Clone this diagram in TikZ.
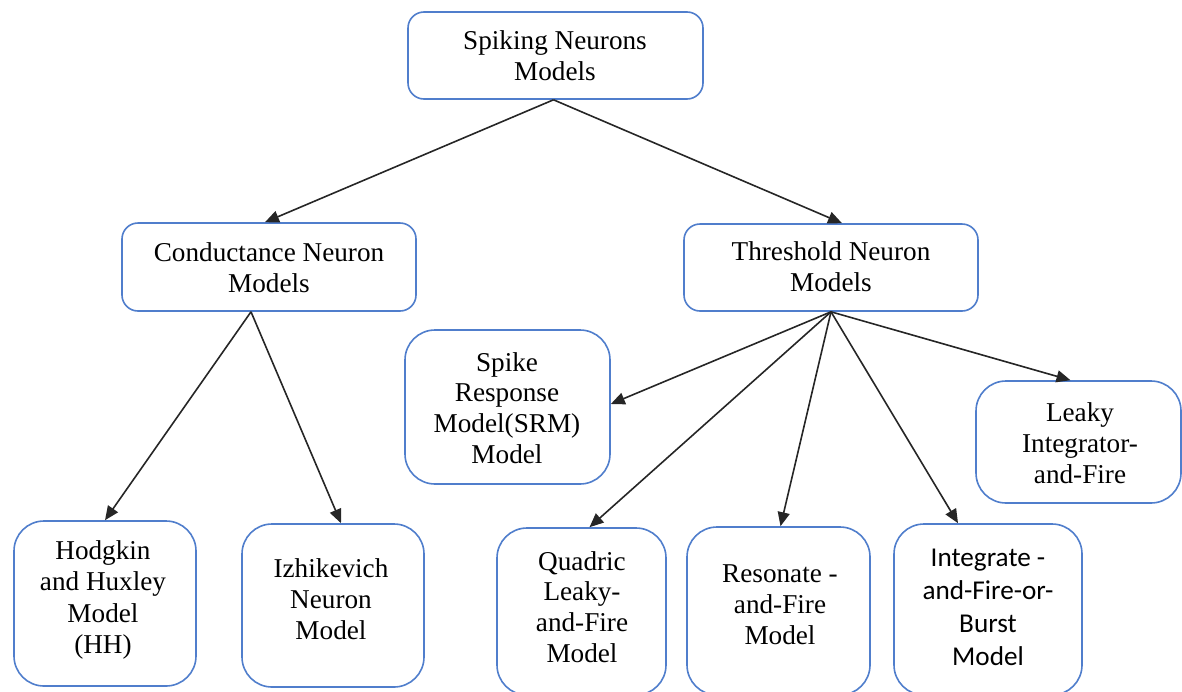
\documentclass[tikz,border=0pt]{standalone}
\usepackage{fontspec}
\setmainfont{Liberation Serif}
\newfontfamily\calibrilike{Carlito}
\usetikzlibrary{arrows.meta,calc}
\definecolor{boxblue}{RGB}{80,126,204}
\tikzset{
  box/.style={draw=boxblue, line width=0.8pt, fill=white, rectangle, inner sep=0pt},
  upper/.style={box, rounded corners=8pt},
  lower/.style={box, rounded corners=15pt},
  label/.style={align=center, inner sep=0pt, font=\fontsize{13.6}{15.4}\selectfont},
  link/.style={draw=black!85, line width=0.8pt, -{Triangle[length=7pt,width=6pt]}},
}
\begin{document}
\begin{tikzpicture}[x=0.5pt, y=-0.5pt]
\path[use as bounding box] (0,0) rectangle (1182,691);
\clip (0,0) rectangle (1182,691);

% boxes
\node[upper, minimum width=147.5pt, minimum height=43.5pt] (top) at (555.5,55.5) {};
\node[upper, minimum width=147pt, minimum height=44pt] (cond) at (269,267) {};
\node[upper, minimum width=147pt, minimum height=43.5pt] (thr) at (831,267.5) {};
\node[lower, minimum width=102.5pt, minimum height=77pt] (srm) at (507.5,407) {};
\node[lower, minimum width=102.5pt, minimum height=61pt] (leaky) at (1078.5,442) {};
\node[lower, minimum width=91pt, minimum height=82.5pt] (hh) at (105,603.5) {};
\node[lower, minimum width=91pt, minimum height=81.5pt] (iz) at (333,605.5) {};
\node[lower, minimum width=84.5pt, minimum height=83.5pt] (quad) at (581.5,611.5) {};
\node[lower, minimum width=91.5pt, minimum height=84pt] (res) at (778.5,611) {};
\node[lower, minimum width=94pt, minimum height=85.5pt] (int) at (988,609.5) {};

% texts
\node[label] (top-t) at (555,56) {Spiking Neurons\\Models};
\node[label] (cond-t) at (269,267.5) {Conductance Neuron\\Models};
\node[label] (thr-t) at (831,267) {Threshold Neuron\\Models};
\node[label] (srm-t) at (507,408) {Spike\\Response\\Model(SRM)\\Model};
\node[label] (leaky-t) at (1080,443) {Leaky\\Integrator-\\and-Fire};
\node[label, font=\fontsize{13.6}{15.8}\selectfont] (hh-t) at (103,600) {Hodgkin\\and Huxley\\Model\\(HH)};
\node[label] (iz-t) at (331,599) {Izhikevich\\Neuron\\Model};
\node[label] (quad-t) at (582,607) {Quadric\\Leaky-\\and-Fire\\Model};
\node[label] (res-t) at (780,605) {Resonate -\\and-Fire\\Model};
\node[label, font=\calibrilike\fontsize{13.6}{16.5}\selectfont] (int-t) at (988,607.5) {Integrate -\\and-Fire-or-\\Burst\\Model};

% connectors
\draw[link] ($(top.south)+(-2,0)$) -- ($(cond.north)+(-4,0)$);
\draw[link] ($(top.south)+(-2,0)$) -- ($(thr.north)+(11,0)$);
\draw[link] ($(cond.south)+(-18,0)$) -- (hh.north);
\draw[link] ($(cond.south)+(-18,0)$) -- ($(iz.north)+(8,0)$);
\draw[link] (thr.south) -- ($(srm.east)+(0,-3)$);
\draw[link] (thr.south) -- ($(leaky.north)+(-8,0)$);
\draw[link] (thr.south) -- ($(quad.north)+(8,0)$);
\draw[link] (thr.south) -- ($(res.north)+(2,0)$);
\draw[link] (thr.south) -- ($(int.north)+(-30,0)$);
\end{tikzpicture}
\end{document}
